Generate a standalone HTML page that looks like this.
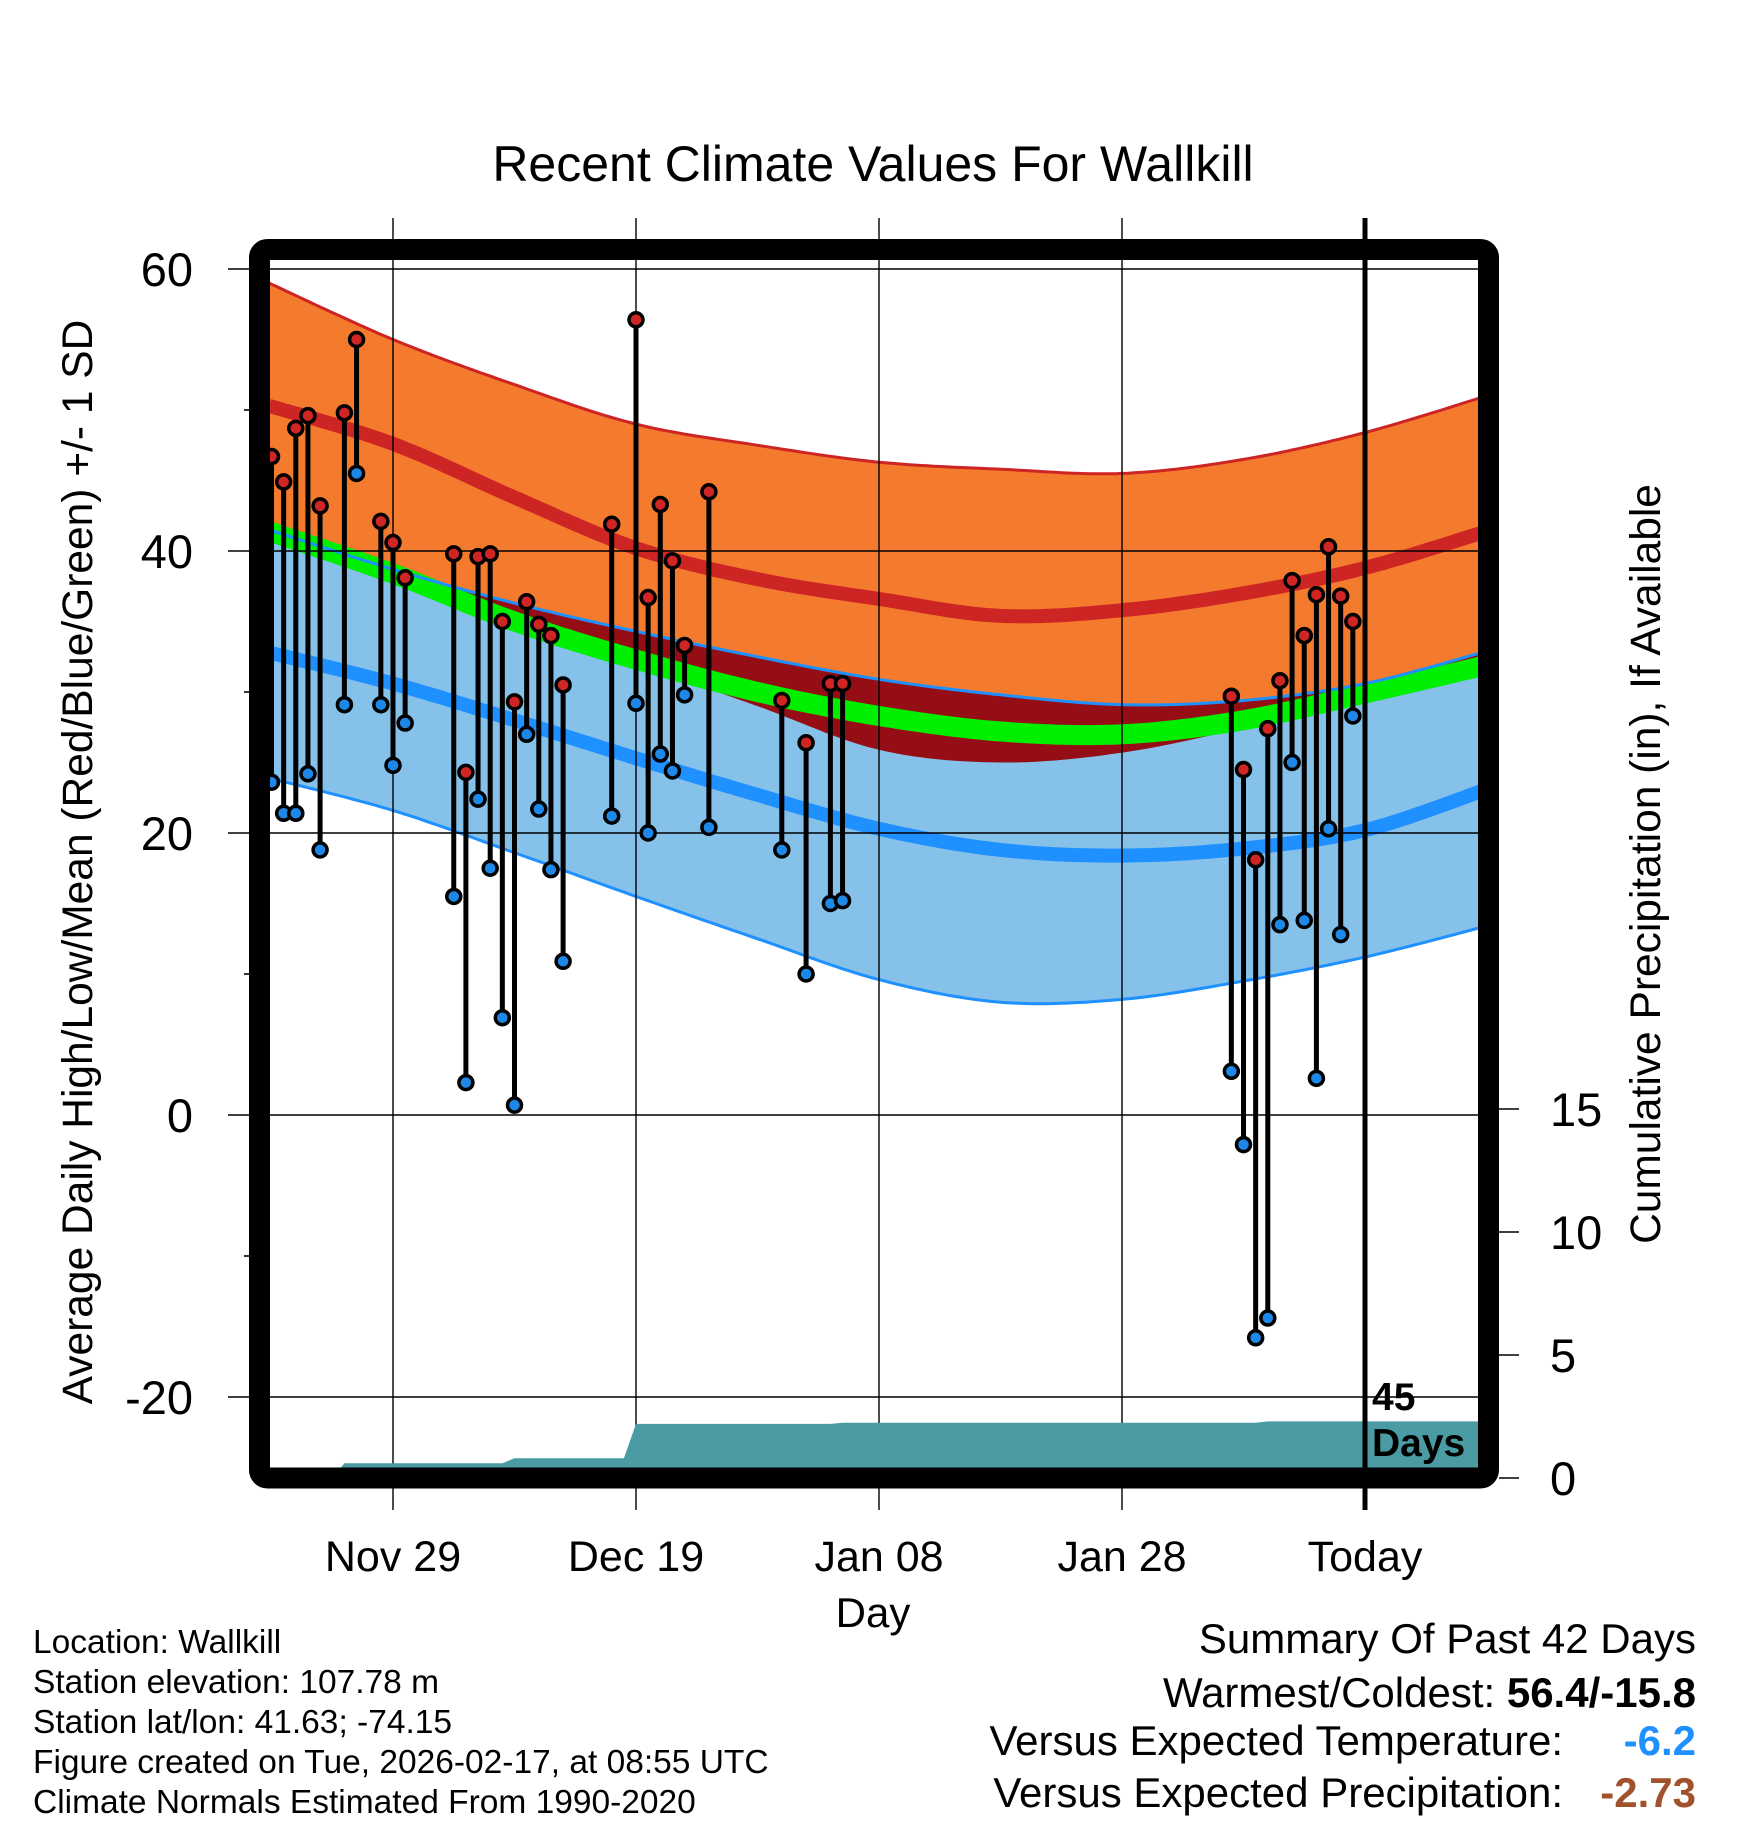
<!DOCTYPE html>
<html><head><meta charset="utf-8"><style>
html,body{margin:0;padding:0;background:#fff;}
svg{display:block;font-family:"Liberation Sans",Arial,sans-serif;}
</style></head><body>
<svg id="chart" width="1748" height="1828" viewBox="0 0 1748 1828" xmlns="http://www.w3.org/2000/svg">
<defs><clipPath id="plotclip"><rect x="270" y="260" width="1208" height="1208"/></clipPath></defs>
<rect x="0" y="0" width="1748" height="1828" fill="#fff"/>
<text x="873" y="181" font-size="50" text-anchor="middle">Recent Climate Values For Wallkill</text>
<g id="normals" clip-path="url(#plotclip)"></g>
<g id="grid"></g>
<g id="precip" clip-path="url(#plotclip)"></g>
<g id="obs"></g>
<g id="axes"></g>
<rect x="259.5" y="249.5" width="1229" height="1228.5" rx="8" fill="none" stroke="#000" stroke-width="21"/>
<text x="1372" y="1410" font-size="39" font-weight="bold">45</text>
<text x="1372" y="1456" font-size="39" font-weight="bold">Days</text>
<text transform="translate(92,862) rotate(-90)" font-size="42.5" text-anchor="middle">Average Daily High/Low/Mean (Red/Blue/Green) +/- 1 SD</text>
<text transform="translate(1660,864) rotate(-90)" font-size="42.5" text-anchor="middle">Cumulative Precipitation (in), If Available</text>
<text x="873" y="1627" font-size="42" text-anchor="middle">Day</text>
<g font-size="33.5">
<text x="33" y="1653">Location: Wallkill</text>
<text x="33" y="1693">Station elevation: 107.78 m</text>
<text x="33" y="1733">Station lat/lon: 41.63; -74.15</text>
<text x="33" y="1773">Figure created on Tue, 2026-02-17, at 08:55 UTC</text>
<text x="33" y="1813">Climate Normals Estimated From 1990-2020</text>
</g>
<g font-size="42" text-anchor="end">
<text x="1696" y="1653">Summary Of Past 42 Days</text>
<text x="1696" y="1707">Warmest/Coldest: <tspan font-weight="bold">56.4/-15.8</tspan></text>
<text x="1563" y="1755">Versus Expected Temperature:</text>
<text x="1696" y="1755" font-weight="bold" fill="#1e90ff">-6.2</text>
<text x="1563" y="1807">Versus Expected Precipitation:</text>
<text x="1696" y="1807" font-weight="bold" fill="#a0522d">-2.73</text>
</g>
</svg>
<script>
// ---- data ----
const normDays = [-10.2, 0, 10, 20, 30, 40, 50, 60, 70, 80, 90];
const highPlus = [59.0, 55.0, 51.8, 49.0, 47.5, 46.3, 45.8, 45.5, 46.5, 48.4, 51.0];
const highMean = [50.3, 47.6, 43.8, 40.2, 38.0, 36.6, 35.4, 35.8, 37.0, 38.8, 41.4];
const highMinus = [41.5, 38.3, 35.0, 32.0, 29.0, 25.9, 25.0, 25.7, 27.5, 30.0, 32.3];
const meanTemp = [41.4, 38.4, 35.0, 32.3, 30.0, 28.3, 27.2, 27.0, 28.0, 29.9, 31.9];
const lowPlus = [41.5, 38.7, 36.3, 34.3, 32.5, 30.9, 29.8, 29.1, 29.4, 30.6, 32.9];
const lowMean = [32.8, 30.6, 28.0, 25.3, 22.7, 20.3, 18.8, 18.4, 18.9, 20.2, 23.1];
const lowMinus = [23.9, 21.6, 18.6, 15.5, 12.5, 9.6, 8.0, 8.2, 9.5, 11.2, 13.4];
const obsDays = [-10,-9,-8,-7,-6,-4,-3,-1,0,1,5,6,7,8,9,10,11,12,13,14,18,20,21,22,23,24,26,32,34,36,37,69,70,71,72,73,74,75,76,77,78,79];
const obsHigh = [46.7,44.9,48.7,49.6,43.2,49.8,55.0,42.1,40.6,38.1,39.8,24.3,39.6,39.8,35.0,29.3,36.4,34.8,34.0,30.5,41.9,56.4,36.7,43.3,39.3,33.3,44.2,29.4,26.4,30.6,30.6,29.7,24.5,18.1,27.4,30.8,37.9,34.0,36.9,40.3,36.8,35.0];
const obsLow = [23.6,21.4,21.4,24.2,18.8,29.1,45.5,29.1,24.8,27.8,15.5,2.3,22.4,17.5,6.9,0.7,27.0,21.7,17.4,10.9,21.2,29.2,20.0,25.6,24.4,29.8,20.4,18.8,10.0,15.0,15.2,3.1,-2.1,-15.8,-14.4,13.5,25.0,13.8,2.6,20.3,12.8,28.3];
const precipDays = [-10.2,-5,-4,9,10,19,20,36,37,71,72,90];
const precipCum = [0,0,0.6,0.6,0.8,0.8,2.2,2.2,2.25,2.25,2.3,2.3];
const yTicks = [60,40,20,0,-20];
const yMinor = [50,30,10,-10];
const xTickDays = [0,20,40,60,80];
const xTickLabels = ["Nov 29","Dec 19","Jan 08","Jan 28","Today"];
const pTicks = [0,5,10,15];

// ---- scales ----
const xs = d => 393 + 12.15*d;
const ys = v => 269 + (60 - v)*14.1;
const ps = p => 1478 - p*24.6;
const NS = "http://www.w3.org/2000/svg";
function mk(tag, attrs, parent){ const e=document.createElementNS(NS,tag); for(const k in attrs) e.setAttribute(k,attrs[k]); parent.appendChild(e); return e; }

function smoothPts(days, vals){
  const pts=[];
  for(let i=0;i<days.length-1;i++){
    const p0=i>0?i-1:i, p3=i+2<days.length?i+2:i+1;
    for(let s=0;s<20;s++){
      const t=s/20, t2=t*t, t3=t2*t;
      const f=(a,b,c,d)=>0.5*((2*b)+(-a+c)*t+(2*a-5*b+4*c-d)*t2+(-a+3*b-3*c+d)*t3);
      pts.push([xs(f(days[p0],days[i],days[i+1],days[p3])), ys(f(vals[p0],vals[i],vals[i+1],vals[p3]))]);
    }
  }
  pts.push([xs(days[days.length-1]), ys(vals[vals.length-1])]);
  return pts;
}
const ptStr = p => p.map(q=>q[0].toFixed(1)+","+q[1].toFixed(1)).join(" ");
function band(top, bot, fill, name, parent){
  const a=smoothPts(normDays, top), b=smoothPts(normDays, bot).reverse();
  const el=mk("polygon",{points:ptStr(a.concat(b)),fill:fill},parent);
  
  
}
function line(vals, color, w, name, parent){
  const el=mk("polyline",{points:ptStr(smoothPts(normDays, vals)),fill:"none",stroke:color,"stroke-width":w},parent);
  
  
}

const gN=document.getElementById("normals");
band(highPlus, highMinus, "#f47a2e", "high-sd-band", gN);
band(lowPlus, lowMinus, "#85c1e8", "low-sd-band", gN);
band(lowPlus, highMinus, "#960e15", "overlap-band", gN);
line(meanTemp, "#00ee00", 20, "mean-line", gN);
line(lowPlus, "#1e90ff", 3, "low-plus-sd-line", gN);
line(highMean, "#cd2424", 14, "high-mean-line", gN);
line(lowMean, "#1e90ff", 14, "low-mean-line", gN);
line(highPlus, "#cd2424", 3, "high-plus-sd-line", gN);
line(lowMinus, "#1e90ff", 3, "low-minus-sd-line", gN);

// grid
const gG=document.getElementById("grid");
yTicks.forEach(v=>{
  const l=mk("line",{x1:228,x2:1478,y1:ys(v),y2:ys(v),stroke:"#000","stroke-width":1.6},gG);
  
  
});
yMinor.forEach(v=>{
  const l=mk("line",{x1:244,x2:252,y1:ys(v),y2:ys(v),stroke:"#000","stroke-width":1.6},gG);
  
  
});
xTickDays.slice(0,4).forEach(d=>{
  const l=mk("line",{x1:xs(d),x2:xs(d),y1:218,y2:1510,stroke:"#000","stroke-width":1.4},gG);
  
  
});

// precipitation
const gP=document.getElementById("precip");
const pp=precipDays.map((d,i)=>[xs(d),ps(precipCum[i])]);
pp.push([xs(precipDays[precipDays.length-1]),1480]); pp.push([xs(precipDays[0]),1480]);
const pa=mk("polygon",{points:ptStr(pp),fill:"#4a9ba3"},gP);



// observations
const gO=document.getElementById("obs");
obsDays.forEach((d,i)=>{
  const x=xs(d);
  const st=mk("line",{x1:x,x2:x,y1:ys(obsHigh[i]),y2:ys(obsLow[i]),stroke:"#000","stroke-width":5},gO);
  
  
  const h=mk("circle",{cx:x,cy:ys(obsHigh[i]),r:7,fill:"#d02525",stroke:"#000","stroke-width":3.5},gO);
  
  
  const lo=mk("circle",{cx:x,cy:ys(obsLow[i]),r:7,fill:"#1e88e8",stroke:"#000","stroke-width":3.5},gO);
  
  
});

// axes labels
const gA=document.getElementById("axes");
const tl=mk("line",{x1:xs(80),x2:xs(80),y1:218,y2:1510,stroke:"#000","stroke-width":5},gA);


yTicks.forEach(v=>{
  const t=mk("text",{x:193,y:ys(v)+17,"font-size":47,"text-anchor":"end"},gA);
  t.textContent=String(v);
  
  
});
xTickDays.forEach((d,i)=>{
  const t=mk("text",{x:xs(d),y:1571,"font-size":43,"text-anchor":"middle"},gA);
  t.textContent=xTickLabels[i];
  
  
});
pTicks.forEach(p=>{
  const l=mk("line",{x1:1499,x2:1519,y1:ps(p),y2:ps(p),stroke:"#000","stroke-width":1.6},gA);
  
  
  const t=mk("text",{x:1550,y:ps(p)+17,"font-size":47},gA);
  t.textContent=String(p);
  
  
});
</script>
</body></html>
